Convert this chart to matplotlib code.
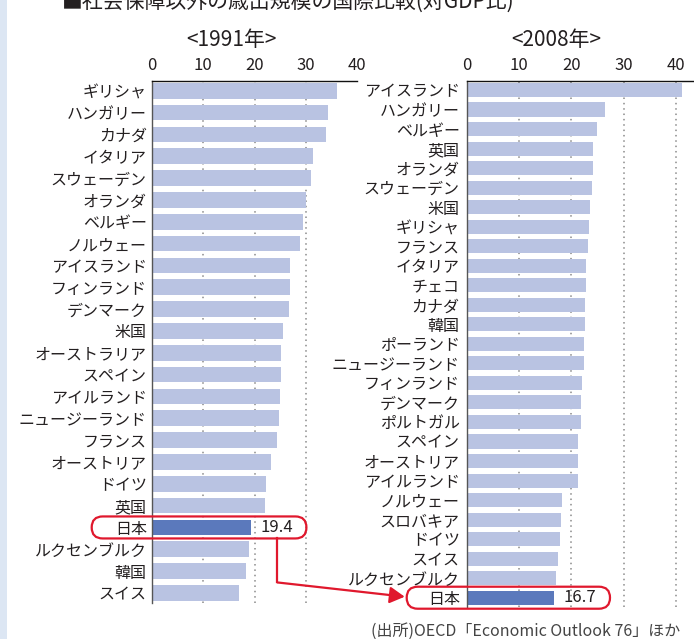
#! /usr/bin/env python
#  Non social-security spending, international comparison (% of GDP), 1991 vs 2008

import matplotlib
matplotlib.use("Agg")
import matplotlib.pyplot as plt
from matplotlib.patches import FancyBboxPatch, Rectangle, FancyArrowPatch
from matplotlib.lines import Line2D

plt.rcParams['font.family'] = ['Noto Sans CJK JP', 'DejaVu Sans']

countries_1991 = ["ギリシャ", "ハンガリー", "カナダ", "イタリア", "スウェーデン", "オランダ",
                  "ベルギー", "ノルウェー", "アイスランド", "フィンランド", "デンマーク", "米国",
                  "オーストラリア", "スペイン", "アイルランド", "ニュージーランド", "フランス",
                  "オーストリア", "ドイツ", "英国", "日本", "ルクセンブルク", "韓国", "スイス"]
values_1991 = [36.0, 34.3, 33.9, 31.3, 30.9, 30.0, 29.4, 28.8, 27.0, 27.0, 26.8, 25.5,
               25.1, 25.1, 24.9, 24.7, 24.3, 23.3, 22.2, 22.0, 19.4, 18.9, 18.3, 16.9]

countries_2008 = ["アイスランド", "ハンガリー", "ベルギー", "英国", "オランダ", "スウェーデン",
                  "米国", "ギリシャ", "フランス", "イタリア", "チェコ", "カナダ", "韓国",
                  "ポーランド", "ニュージーランド", "フィンランド", "デンマーク", "ポルトガル",
                  "スペイン", "オーストリア", "アイルランド", "ノルウェー", "スロバキア", "ドイツ",
                  "スイス", "ルクセンブルク", "日本"]
values_2008 = [41.1, 26.4, 25.0, 24.1, 24.1, 23.9, 23.5, 23.3, 23.1, 22.9, 22.9, 22.7, 22.7,
               22.5, 22.5, 22.0, 21.8, 21.8, 21.2, 21.2, 21.2, 18.3, 18.0, 17.8, 17.4, 17.0, 16.7]

ticks = [0, 10, 20, 30, 40]
highlight = "日本"

LIGHT = "#b9c3e2"
DARK = "#5b79bc"
RED = "#e0182d"
TXT = "#231f20"

W, H = 694, 639
fig = plt.figure(figsize=(W / 100, H / 100), dpi=100)
fig.patch.set_facecolor("white")

# light blue strip on the left edge
fig.add_artist(Rectangle((0, 0), 7 / W, 1, transform=fig.transFigure,
                         facecolor="#dce6f3", edgecolor="none"))

# title (cut off at the top in the original)
fig.text(62 / W, 1 - 2 / H, "■社会保障以外の歳出規模の国際比較(対GDP比)",
         fontsize=15, color=TXT, ha="left", va="center")


def panel(rect, names, vals, xmax, grid, label_pad):
    ax = fig.add_axes(rect)
    y = list(range(len(names)))
    colors = [DARK if n == highlight else LIGHT for n in names]
    ax.barh(y, vals, height=0.72, color=colors, zorder=2)
    ax.set_xlim(0, xmax)
    ax.set_ylim(len(names) - 0.54, -0.46)
    ax.set_yticks(y)
    ax.set_yticklabels(names, fontsize=11.5, color=TXT)
    ax.xaxis.tick_top()
    ax.set_xticks(ticks)
    ax.set_xticklabels([str(t) for t in ticks], fontsize=12, color=TXT)
    ax.tick_params(axis="x", length=0, pad=5)
    ax.tick_params(axis="y", length=0, pad=label_pad)
    for g in grid:
        ax.axvline(g, color="#8a8a8a", lw=1.1, ls=(0, (1, 2.5)), zorder=1)
    ax.spines["right"].set_visible(False)
    ax.spines["bottom"].set_visible(False)
    ax.spines["top"].set_color("#111111")
    ax.spines["left"].set_color("#555555")
    ax.spines["top"].set_linewidth(1.0)
    ax.spines["left"].set_linewidth(1.0)
    ax.set_facecolor("none")

    # value label and red pill around the highlighted row
    i = names.index(highlight)
    v = vals[i]
    ax.text(v + 1.8, i, "%.1f" % v, fontsize=12, color=TXT, va="center", ha="left")
    x0, yc = ax.transData.transform((0, i))
    x1, _ = ax.transData.transform((v + 10.7, i))
    left = x0 - 60
    h = 22
    box = FancyBboxPatch((left, yc - h / 2), x1 - left, h,
                         boxstyle="round,pad=0,rounding_size=%f" % (h / 2),
                         transform=None, facecolor="none", edgecolor=RED,
                         lw=1.6, zorder=5)
    fig.add_artist(box)
    return ax, (left, x1, yc, h)


ax1, b1 = panel([151.7 / W, 1 - 603 / H, 205.6 / W, 522.3 / H],
                countries_1991, values_1991, 40, [10, 20, 30], 3.5)
ax2, b2 = panel([466.7 / W, 1 - 606.7 / H, 227.3 / W, 525.7 / H],
                countries_2008, values_2008, 227.3 / 5.23, [10, 20, 30, 40], 5)

fig.text(231 / W, 1 - 40 / H, "<1991年>", fontsize=15, color=TXT, ha="center", va="center")
fig.text(556 / W, 1 - 40 / H, "<2008年>", fontsize=15, color=TXT, ha="center", va="center")

# connector from the 1991 Japan row to the 2008 Japan row
l1, r1, y1, h1 = b1
l2, r2, y2, h2 = b2
cx = r1 - 29
top = y1 - h1 / 2
mid = top - 44
fig.add_artist(Line2D([cx, cx], [top, mid], transform=None, color=RED, lw=1.6))
fig.add_artist(FancyArrowPatch((cx, mid), (l2 - 2, y2 + 1), transform=None,
                               arrowstyle="-|>,head_length=9,head_width=5",
                               color=RED, lw=1.6, shrinkA=0, shrinkB=0))

fig.text(680 / W, 1 - 631 / H, "(出所)OECD「Economic Outlook 76」ほか",
         fontsize=11.5, color="#444444", ha="right", va="center")

plt.savefig("out.png", dpi=100)
